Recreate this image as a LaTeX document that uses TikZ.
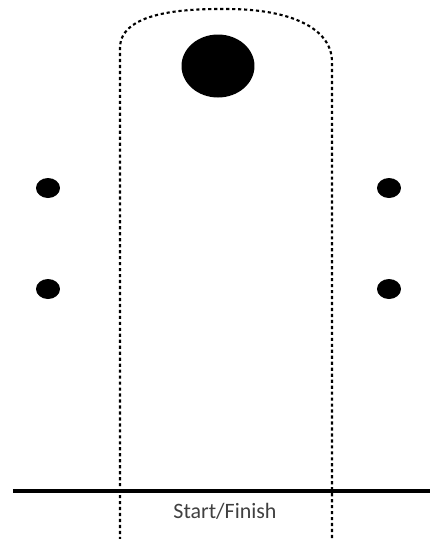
\documentclass[tikz,border=0pt]{standalone}
\usepackage{fontspec}
\setmainfont{Carlito}
\usetikzlibrary{shapes.geometric}
\begin{document}
\begin{tikzpicture}[x=0.02cm, y=-0.02cm, every node/.style={font=\fontsize{12.5}{14}\selectfont}]
\useasboundingbox (0,0) rectangle (430,539);
% course outline
\draw[line width=1.2pt, dash pattern=on 1.8pt off 1.6pt] (120,540) -- (120,48)
  .. controls (120,8) and (200,9) .. (227,9)
  .. controls (290,9) and (332,28) .. (332,62) -- (332,540);
% markers
\node[ellipse, fill=black, minimum width=1.46cm, minimum height=1.26cm, inner sep=0pt] (top) at (218,66) {};
\node[ellipse, fill=black, minimum width=0.48cm, minimum height=0.4cm, inner sep=0pt] (l1) at (48,188) {};
\node[ellipse, fill=black, minimum width=0.48cm, minimum height=0.4cm, inner sep=0pt] (l2) at (48,289) {};
\node[ellipse, fill=black, minimum width=0.48cm, minimum height=0.4cm, inner sep=0pt] (r1) at (389,188) {};
\node[ellipse, fill=black, minimum width=0.48cm, minimum height=0.4cm, inner sep=0pt] (r2) at (389,289) {};
% start line
\coordinate (s0) at (13,491);
\coordinate (s1) at (430,491);
\draw[line width=2.5pt] (s0) -- (s1);
\node[text=black!75] (start) at (225,511) {Start/Finish};
\end{tikzpicture}
\end{document}
